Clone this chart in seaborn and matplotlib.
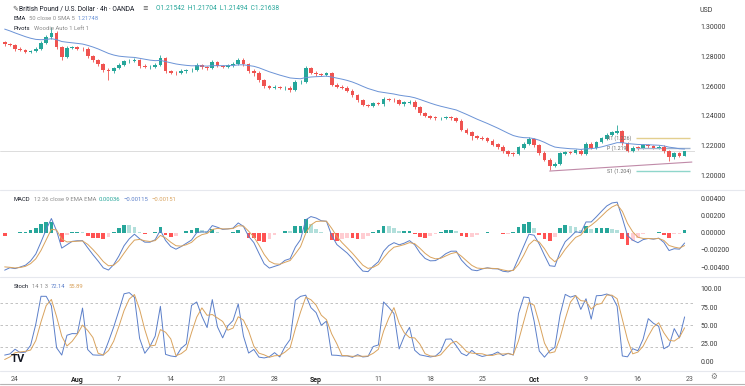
import numpy as np
import pandas as pd
import matplotlib
matplotlib.use("Agg")
import matplotlib.pyplot as plt
from matplotlib.lines import Line2D
import seaborn as sns

# 12h closes, Jul 21 -> Oct 20 (trading days only)
close = [
    1.2880, 1.2873, 1.2845, 1.2840, 1.2830, 1.2835, 1.2850, 1.2890, 1.2925, 1.2955,
    1.2860, 1.2795, 1.2855, 1.2860, 1.2850, 1.2845, 1.2800, 1.2773, 1.2745, 1.2710,
    1.2700, 1.2720, 1.2740, 1.2765, 1.2770, 1.2775, 1.2735, 1.2725, 1.2730, 1.2740,
    1.2785, 1.2700, 1.2690, 1.2685, 1.2700, 1.2705, 1.2710, 1.2740, 1.2725, 1.2720,
    1.2760, 1.2735, 1.2730, 1.2740, 1.2745, 1.2775, 1.2745, 1.2700, 1.2690, 1.2640,
    1.2600, 1.2590, 1.2595, 1.2585, 1.2590, 1.2575, 1.2625, 1.2630, 1.2720, 1.2690,
    1.2680, 1.2675, 1.2685, 1.2610, 1.2595, 1.2590, 1.2570, 1.2540, 1.2505, 1.2475,
    1.2470, 1.2485, 1.2480, 1.2515, 1.2510, 1.2505, 1.2480, 1.2490, 1.2495, 1.2460,
    1.2420, 1.2400, 1.2390, 1.2385, 1.2388, 1.2392, 1.2385, 1.2370, 1.2310, 1.2290,
    1.2265, 1.2255, 1.2250, 1.2235, 1.2210, 1.2195, 1.2165, 1.2150, 1.2145, 1.2190,
    1.2215, 1.2245, 1.2205, 1.2155, 1.2110, 1.2070, 1.2080, 1.2150, 1.2160, 1.2155,
    1.2170, 1.2150, 1.2215, 1.2190, 1.2225, 1.2250, 1.2275, 1.2290, 1.2300, 1.2220,
    1.2170, 1.2190, 1.2185, 1.2205, 1.2200, 1.2190, 1.2195, 1.2165, 1.2125, 1.2150,
    1.2135, 1.2164,
]
# upper / lower wick beyond the body, in pips
up_wick = [
    8, 10, 6, 12, 9, 7, 10, 8, 12, 40,
    15, 8, 12, 10, 7, 9, 12, 8, 10, 6,
    10, 8, 12, 9, 7, 11, 8, 10, 9, 12,
    22, 10, 8, 9, 12, 7, 10, 14, 8, 9,
    11, 9, 8, 10, 12, 14, 9, 8, 15, 10,
    8, 9, 11, 7, 10, 9, 12, 8, 15, 10,
    9, 8, 11, 10, 7, 9, 8, 10, 7, 9,
    8, 10, 9, 12, 8, 9, 11, 8, 10, 9,
    8, 10, 7, 9, 8, 10, 9, 7, 9, 8,
    10, 8, 9, 7, 10, 8, 9, 7, 10, 12,
    10, 15, 9, 8, 10, 12, 14, 9, 10, 8,
    11, 9, 12, 10, 9, 11, 10, 12, 37, 10,
    9, 12, 10, 11, 9, 10, 12, 9, 8, 11,
    9, 6,
]
dn_wick = [
    10, 8, 12, 9, 11, 8, 7, 10, 8, 9,
    12, 20, 9, 8, 10, 9, 11, 10, 12, 15,
    60, 10, 9, 8, 10, 9, 12, 8, 10, 9,
    8, 12, 10, 9, 8, 10, 9, 8, 11, 10,
    9, 10, 8, 9, 10, 8, 9, 12, 20, 10,
    10, 12, 9, 8, 10, 15, 9, 10, 8, 9,
    10, 9, 8, 12, 10, 9, 11, 10, 12, 9,
    10, 8, 9, 10, 12, 9, 8, 10, 9, 11,
    10, 9, 8, 10, 9, 8, 10, 9, 12, 10,
    25, 10, 9, 8, 10, 12, 9, 14, 10, 8,
    9, 8, 10, 12, 10, 33, 12, 9, 10, 8,
    9, 12, 8, 10, 9, 8, 10, 9, 8, 10,
    12, 9, 10, 8, 12, 9, 10, 11, 25, 9,
    10, 0,
]
first_open = 1.2895
# closes before the visible range (Jul 18-20), only to seed the indicators
warmup_close = [1.3040, 1.3010, 1.2980, 1.2940, 1.2900, 1.2870]

tick_days = [0, 6, 10, 15, 20, 25, 29, 35, 40, 45, 50, 55, 60, 65]
tick_labels = ["24", "Aug", "7", "14", "21", "28", "Sep", "11", "18", "25", "Oct", "9", "16", "23"]
month_labels = ["Aug", "Sep", "Oct"]

price_ticks = [1.20, 1.22, 1.24, 1.26, 1.28, 1.30]
macd_ticks = [-0.004, -0.002, 0.0, 0.002, 0.004]
stoch_ticks = [0, 25, 50, 75, 100]
stoch_bands = [80, 50, 20]

pivot_names = ["R1", "P", "S1"]
pivot_levels = [1.2255, 1.2187, 1.2035]
pivot_colors = ["#e3cf8f", "#9fb3cf", "#8fd6cb"]
trend_days = [51.5, 65.2]
trend_prices = [1.2033, 1.2093]
last_price = 1.2164

UP, DOWN = "#26a69a", "#ef5350"
W, H = 745, 386

# ---- frame
n = len(close)
day = -1 + 0.5 * np.arange(n)
opens = [first_open] + close[:-1]
df = pd.DataFrame({"day": day, "open": opens, "close": close})
df["high"] = df[["open", "close"]].max(axis=1) + np.array(up_wick) / 1e4
df["low"] = df[["open", "close"]].min(axis=1) - np.array(dn_wick) / 1e4

# indicators (periods scaled from 4h to 12h bars)
allc = pd.Series(warmup_close + close)
allh = pd.Series(warmup_close + list(df["high"]))
alll = pd.Series(warmup_close + list(df["low"]))
k = len(warmup_close)
ema = allc.ewm(span=17, adjust=False).mean().iloc[k:].values
macd = allc.ewm(span=4, adjust=False).mean() - allc.ewm(span=9, adjust=False).mean()
signal = macd.ewm(span=3, adjust=False).mean()
hist = (macd - signal).iloc[k:].values
macd = macd.iloc[k:].values
signal = signal.iloc[k:].values
ll = alll.rolling(5, min_periods=1).min()
hh = allh.rolling(5, min_periods=1).max()
stk = 100 * (allc - ll) / (hh - ll)
std = stk.rolling(3, min_periods=1).mean()
stk = stk.iloc[k:].values
std = std.iloc[k:].values

sns.set_theme(style="white")
plt.rcParams["font.family"] = ["Roboto", "DejaVu Sans"]

fig = plt.figure(figsize=(W / 100, H / 100), dpi=100)
fig.patch.set_facecolor("white")
right = 695 / W
ax1 = fig.add_axes([0, 1 - 189 / H, right, 189 / H])
ax2 = fig.add_axes([0, 1 - 275 / H, right, 83 / H])
ax3 = fig.add_axes([0, 1 - 370 / H, right, 92 / H])

xlim = (-1.45, 65.5)
for ax in (ax1, ax2, ax3):
    ax.set_xlim(*xlim)
    for s in ax.spines.values():
        s.set_visible(False)
    ax.yaxis.tick_right()
    ax.tick_params(axis="y", length=0, pad=4, labelsize=5, labelcolor="#3b3b3b")
    ax.set_xlabel("")
    ax.set_ylabel("")

# ---- price pane
ax1.axhline(last_price, color="#cfcfcf", lw=0.5, zorder=1)
colors = np.where(df["close"] >= df["open"], UP, DOWN)
ax1.vlines(df["day"], df["low"], df["high"], colors=colors, lw=0.6, zorder=2)
body_lo = df[["open", "close"]].min(axis=1)
body_h = (df["close"] - df["open"]).abs().clip(lower=0.00012)
ax1.bar(df["day"], body_h, bottom=body_lo, width=0.36, color=colors, lw=0, zorder=3)
sns.lineplot(x=day, y=ema, ax=ax1, color="#6b93d6", lw=0.7, zorder=4)
ax1.plot(trend_days, trend_prices, color="#c08aa8", lw=0.8, zorder=4)
for name, lvl, c in zip(pivot_names, pivot_levels, pivot_colors):
    ax1.hlines(lvl, 59.8, 65.0, color=c, lw=1.0, zorder=2)
    ax1.text(57.0, lvl, f"{name} ({lvl:.3f})", fontsize=3.8,
             color="#6b6b6b", va="center", ha="left", zorder=5)
ax1.set_ylim(1.30 - 163 * 0.02 / 30, 1.30 + 26 * 0.02 / 30)
ax1.set_yticks(price_ticks)
ax1.set_yticklabels([f"{v:.5f}" for v in price_ticks])
ax1.set_xticks([])

# ---- MACD pane
hcol = []
prev = 0.0
for h in hist:
    if h >= 0:
        hcol.append("#26a69a" if h >= prev else "#b2dfdb")
    else:
        hcol.append("#ff5252" if h < prev else "#ffcdd2")
    prev = h
ax2.bar(day, hist, width=0.36, color=hcol, lw=0)
sns.lineplot(x=day, y=macd, ax=ax2, color="#5b7fc9", lw=0.7)
sns.lineplot(x=day, y=signal, ax=ax2, color="#d9a35e", lw=0.7)
ax2.set_ylim(-0.0049, 0.0047)
ax2.set_yticks(macd_ticks)
ax2.set_yticklabels([f"{v:.5f}".replace("-", "\u2212") for v in macd_ticks])
ax2.set_xticks([])

# ---- Stoch pane
for b in stoch_bands:
    ax3.axhline(b, color="#b8b8b8", lw=0.6, ls=(0, (3, 3)))
sns.lineplot(x=day, y=stk, ax=ax3, color="#5b7fc9", lw=0.7)
sns.lineplot(x=day, y=std, ax=ax3, color="#d9a35e", lw=0.7)
ax3.set_ylim(-11.4, 115)
ax3.set_yticks(stoch_ticks)
ax3.set_yticklabels([f"{v:.2f}" for v in stoch_ticks])
ax3.set_xticks(tick_days)
ax3.set_xticklabels(tick_labels)
ax3.tick_params(axis="x", length=0, pad=4, labelsize=5, labelcolor="#555555")
for t in ax3.get_xticklabels():
    if t.get_text() in month_labels:
        t.set_fontweight("bold")
        t.set_color("#222222")

renderer = fig.canvas.get_renderer()


def ftxt(x, y, s, **kw):
    kw.setdefault("fontsize", 4.5)
    kw.setdefault("color", "#3a3a3a")
    return fig.text(x / W, 1 - y / H, s, va="center", ha="left", **kw)


def chain(x, y, pieces, size=4.2, gap=3):
    # lay text pieces side by side, each in its own colour
    for s, c in pieces:
        t = ftxt(x, y, s, fontsize=size, color=c)
        x += t.get_window_extent(renderer).width + gap


DARK, GREY = "#131722", "#8a8a8a"
ftxt(12, 9, "\u270e", fontsize=5, color="#555555")
chain(19, 9, [("British Pound / U.S. Dollar \u00b7 4h \u00b7 OANDA", DARK), ("\u2261", "#555555"),
              ("O1.21542  H1.21704  L1.21494  C1.21638", UP)], size=4.8, gap=8)
chain(14, 19, [("EMA", DARK), ("50 close 0 SMA 5", GREY), ("1.21748", "#6b93d6")])
chain(14, 29, [("Pivots", DARK), ("Woodie Auto 1 Left 1", GREY)])
chain(14, 200, [("MACD", DARK), ("12 26 close 9 EMA EMA", GREY), ("0.00036", UP),
                ("\u22120.00115", "#5b7fc9"), ("\u22120.00151", "#d9a35e")])
chain(14, 287, [("Stoch", DARK), ("14 1 3", GREY), ("72.14", "#5b7fc9"), ("55.89", "#d9a35e")])
ftxt(11, 359, "TV", fontsize=8, fontweight="bold", color=DARK)
ftxt(699, 10, "USD", fontsize=5, color="#3b3b3b")
ftxt(710, 377, "\u2699", fontsize=5.5, color="#777777")

# pane separators
for yy, c in [(190, "#e6e8ee"), (277, "#e6e8ee"), (371, "#e6e8ee"), (384, "#b5b5b5")]:
    fig.add_artist(Line2D([0, 1], [1 - yy / H] * 2, transform=fig.transFigure, color=c, lw=0.8))

fig.savefig("out.png", dpi=100)
